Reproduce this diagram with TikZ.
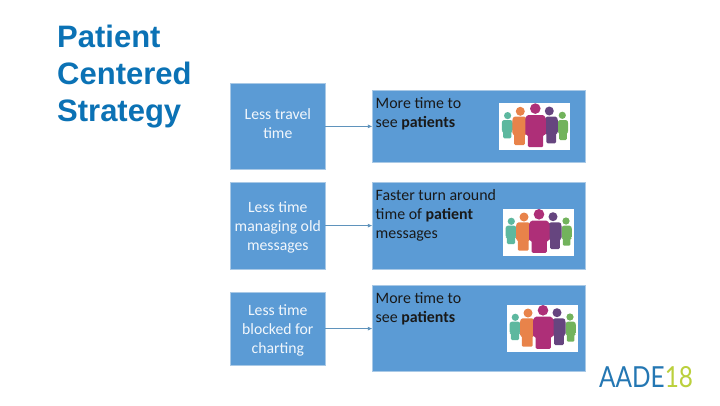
\documentclass[tikz,border=0pt]{standalone}
\usepackage{fontspec}
\setmainfont{Carlito}
\newfontfamily\titlefont{Liberation Sans}
\newfontfamily\logofont{Lato}
\usetikzlibrary{arrows.meta}
\definecolor{boxblue}{HTML}{5B9BD5}
\definecolor{boxedge}{HTML}{A9C9E6}
\definecolor{arrowblue}{HTML}{5F93BC}
\definecolor{titleblue}{HTML}{0B72B5}
\definecolor{logoblue}{HTML}{2477B3}
\definecolor{logolime}{HTML}{BBD03C}
\definecolor{pteal}{HTML}{5DB89F}
\definecolor{porange}{HTML}{E8834A}
\definecolor{pmagenta}{HTML}{AE2F78}
\definecolor{ppurple}{HTML}{66457F}
\definecolor{pgreen}{HTML}{72B35C}
\tikzset{
  x=1pt,y=-1pt,
  panel/.style={rectangle,fill=boxblue,draw=boxedge,line width=0.4pt,inner sep=0pt},
  lefttext/.style={panel,text=white!92!boxblue,align=center,font=\fontsize{15.7}{18.8}\selectfont},
  righttext/.style={anchor=west,align=left,inner sep=0pt,text=black!90,font=\fontsize{15.9}{19}\selectfont},
  flow/.style={arrowblue,line width=0.7pt,-{Latex[length=4.5pt,width=4pt]}},
  titletext/.style={anchor=base west,inner sep=0pt,text=titleblue,font=\titlefont\bfseries\fontsize{31}{37}\selectfont}
}
% one figure: colour, head x, head y, head r, body left, body right, body top, body bottom
\newcommand{\onefig}[8]{%
  \fill[#1] (#2,#3) circle[radius=#4];
  \pgfmathsetmacro{\bw}{#6-#5}\pgfmathsetmacro{\bh}{#8-#7}
  \fill[#1,rounded corners=1.2pt] (#5+0.1*\bw,#7) -- (#6-0.1*\bw,#7) -- (#6,#7+0.1*\bh) -- (#6,#7+0.62*\bh)
    -- (#6-0.13*\bw,#7+0.62*\bh) -- (#6-0.13*\bw,#8) -- (#5+0.13*\bw,#8) -- (#5+0.13*\bw,#7+0.62*\bh)
    -- (#5,#7+0.62*\bh) -- (#5,#7+0.1*\bh) -- cycle;
}
\newcommand{\crowd}[2]{%
  \begin{scope}[shift={(#1,#2)}]
    \fill[white] (0,0) rectangle (71,46.5);
    \onefig{pteal}{8.3}{12.3}{3.6}{2.5}{13.5}{16.7}{35}
    \onefig{pgreen}{63}{12}{3.6}{58.5}{68.8}{16.7}{36.7}
    \onefig{porange}{21}{8}{4.5}{13}{27.5}{13.3}{41.7}
    \onefig{ppurple}{50}{7.7}{4.5}{45.5}{58.5}{13.3}{40}
    \onefig{pmagenta}{36}{5.3}{5.3}{26}{46.5}{11.7}{43.8}
  \end{scope}%
}
\begin{document}
\begin{tikzpicture}
\useasboundingbox (0,0) rectangle (720,405);
\fill[white] (0,0) rectangle (720,405);
\node[titletext] (t1) at (57,47) {Patient};
\node[titletext] (t2) at (57,84) {Centered};
\node[titletext] (t3) at (57,121) {Strategy};

\node[lefttext,minimum width=94.6pt,minimum height=85.7pt] (l1) at (277.8,126.4) {Less travel\\time\rule[-6pt]{0pt}{0pt}};
\node[lefttext,minimum width=94.6pt,minimum height=86.7pt] (l2) at (277.8,225.6) {\rule{0pt}{14pt}Less time\\managing old\\messages};
\node[lefttext,minimum width=94.6pt,minimum height=72.7pt] (l3) at (277.8,328.6) {\rule{0pt}{14pt}Less time\\blocked for\\charting};

\node[panel,minimum width=212.3pt,minimum height=72pt] (r1) at (478.7,126.4) {};
\node[panel,minimum width=212.3pt,minimum height=86.7pt] (r2) at (478.7,225.6) {};
\node[panel,minimum width=212.3pt,minimum height=86pt] (r3) at (478.7,328.6) {};

\node[righttext] (rt1) at (375.5,113.5) {More time to\\see \textbf{patients}};
\node[righttext] (rt2) at (375.5,215) {Faster turn around\\time of \textbf{patient}\\messages};
\node[righttext] (rt3) at (375.5,308.5) {More time to\\see \textbf{patients}};

\crowd{499.3}{103.3}
\crowd{503}{209}
\crowd{507}{305}

\draw[flow] (l1.east) -- (r1.west);
\draw[flow] (l2.east) -- (r2.west);
\draw[flow] (l3.east) -- (r3.west);

\node[anchor=base west,inner sep=0pt,xscale=0.84,font=\logofont\fontsize{29}{29}\selectfont] (logo) at (599,387) {\textcolor{logoblue}{AADE}\textcolor{logolime}{18}};
\end{tikzpicture}
\end{document}
